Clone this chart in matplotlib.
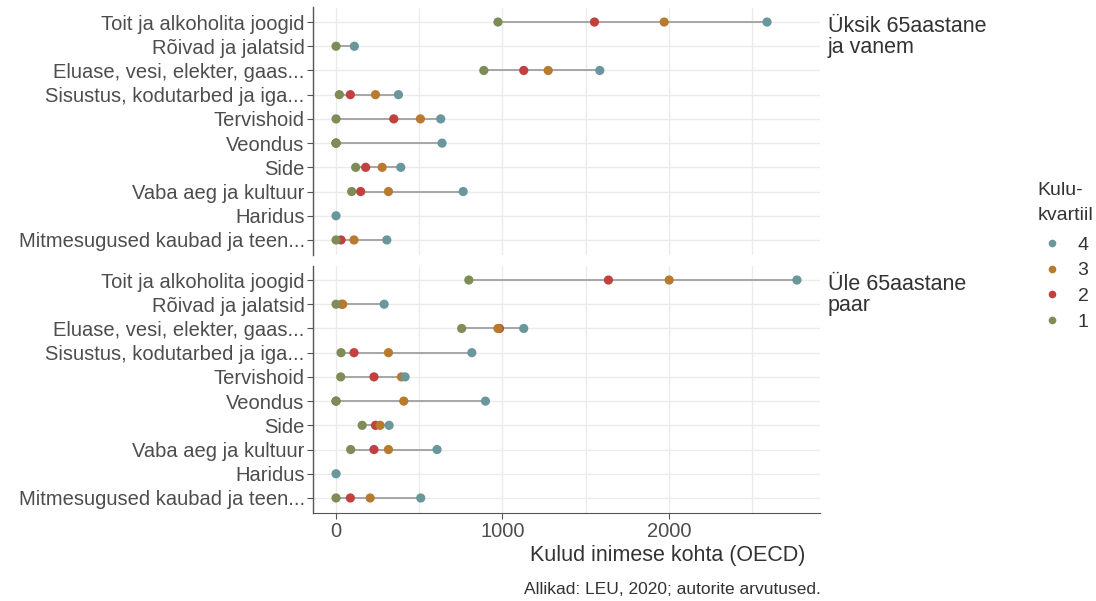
import matplotlib

matplotlib.use("Agg")

import matplotlib.pyplot as plt
import numpy as np
from matplotlib.lines import Line2D

plt.rcParams["font.family"] = ["Liberation Sans", "DejaVu Sans"]

CATEGORIES = [
    "Toit ja alkoholita joogid",
    "Rõivad ja jalatsid",
    "Eluase, vesi, elekter, gaas...",
    "Sisustus, kodutarbed ja iga...",
    "Tervishoid",
    "Veondus",
    "Side",
    "Vaba aeg ja kultuur",
    "Haridus",
    "Mitmesugused kaubad ja teen...",
]

PANELS = ["Üksik 65aastane\nja vanem", "Üle 65aastane\npaar"]

# quartile values per panel, same order as CATEGORIES (nan = not shown)
single_q1 = [973, 0, 888, 20, 0, 0, 118, 94, np.nan, 0]
single_q2 = [1553, np.nan, 1128, 86, 347, 0, 178, 148, np.nan, 30]
single_q3 = [1972, np.nan, 1275, 237, 507, 0, 277, 315, np.nan, 108]
single_q4 = [2590, 110, 1585, 375, 629, 637, 389, 764, 0, 305]

couple_q1 = [798, 0, 755, 30, 28, 0, 157, 88, np.nan, 0]
couple_q2 = [1637, 35, 982, 108, 228, 0, 237, 228, np.nan, 86]
couple_q3 = [2002, 40, 973, 315, 393, 407, 265, 315, np.nan, 205]
couple_q4 = [2770, 289, 1128, 816, 415, 898, 319, 607, 0, 509]

X_TICKS = [0, 1000, 2000]

COLORS = {"1": "#7E8C58", "2": "#C2403F", "3": "#B87A2E", "4": "#6A979B"}
DRAW_ORDER = ["2", "3", "4", "1"]

panel_data = [
    {"1": single_q1, "2": single_q2, "3": single_q3, "4": single_q4},
    {"1": couple_q1, "2": couple_q2, "3": couple_q3, "4": couple_q4},
]

W, H = 1096, 601
fig = plt.figure(figsize=(W / 100, H / 100), dpi=100)

left_px, right_px = 313, 820
panel_px = [(7.5, 254.5), (265.5, 512.5)]
grid_col = "#EBEBEB"
text_col = "#4D4D4D"

xmin, xmax = -138.5, 2908.5
y = np.arange(len(CATEGORIES))

for i, (top, bot) in enumerate(panel_px):
    ax = fig.add_axes([left_px / W, 1 - bot / H, (right_px - left_px) / W, (bot - top) / H])
    data = panel_data[i]
    vals = np.array([data[k] for k in "1234"], dtype=float)
    lo = np.nanmin(vals, axis=0)
    hi = np.nanmax(vals, axis=0)
    ax.hlines(y, lo, hi, color="#A6A6A6", linewidth=1.4, zorder=2)
    for k in DRAW_ORDER:
        ax.scatter(data[k], y, s=44, color=COLORS[k], edgecolors="none", zorder=3)

    ax.set_xlim(xmin, xmax)
    ax.set_ylim(len(CATEGORIES) - 0.4, -0.6)
    ax.set_yticks(y)
    ax.set_yticklabels(CATEGORIES, fontsize=14.5, color=text_col)
    ax.set_xticks(X_TICKS)
    ax.set_xticks([500, 1500, 2500], minor=True)
    ax.grid(True, which="both", color=grid_col, linewidth=1.0, zorder=0)
    ax.set_axisbelow(True)
    for side in ["top", "right"]:
        ax.spines[side].set_visible(False)
    ax.spines["left"].set_color("#555555")
    ax.spines["left"].set_linewidth(1.0)
    ax.tick_params(axis="y", length=4, color="#555555", pad=2)
    ax.tick_params(axis="x", which="minor", length=0)
    if i == 0:
        ax.spines["bottom"].set_visible(False)
        ax.tick_params(axis="x", which="major", length=0, labelbottom=False)
    else:
        ax.spines["bottom"].set_color("#555555")
        ax.tick_params(axis="x", which="major", length=4, color="#555555",
                       labelsize=14.5, labelcolor=text_col, pad=3)
    ax.text(1.015, 1 - 8 / (bot - top), PANELS[i], transform=ax.transAxes,
            ha="left", va="top", fontsize=15.5, color="#333333", linespacing=1.05)

fig.text(668 / W, 1 - 555 / H, "Kulud inimese kohta (OECD)", ha="center", va="center",
         fontsize=15.5, color="#333333")
fig.text(821 / W, 1 - 590 / H, "Allikad: LEU, 2020; autorite arvutused.", ha="right",
         va="center", fontsize=12.5, color="#333333")

handles = [Line2D([], [], marker="o", linestyle="", markersize=5.5, markeredgewidth=0,
                  color=COLORS[k]) for k in ["4", "3", "2", "1"]]
leg = fig.legend(handles, ["4", "3", "2", "1"], title="Kulu-\nkvartiil",
                 loc="upper left", bbox_to_anchor=(1030 / W, 1 - 174 / H),
                 frameon=False, fontsize=14, title_fontsize=14, handletextpad=0.55,
                 labelspacing=0.42, handlelength=1.5, borderaxespad=0)
leg._legend_box.align = "left"
leg._legend_box.sep = 9
leg.get_title().set_color("#333333")
leg.get_title().set_linespacing(1.6)
for t in leg.get_texts():
    t.set_color("#333333")

fig.savefig("out.png", dpi=100)
